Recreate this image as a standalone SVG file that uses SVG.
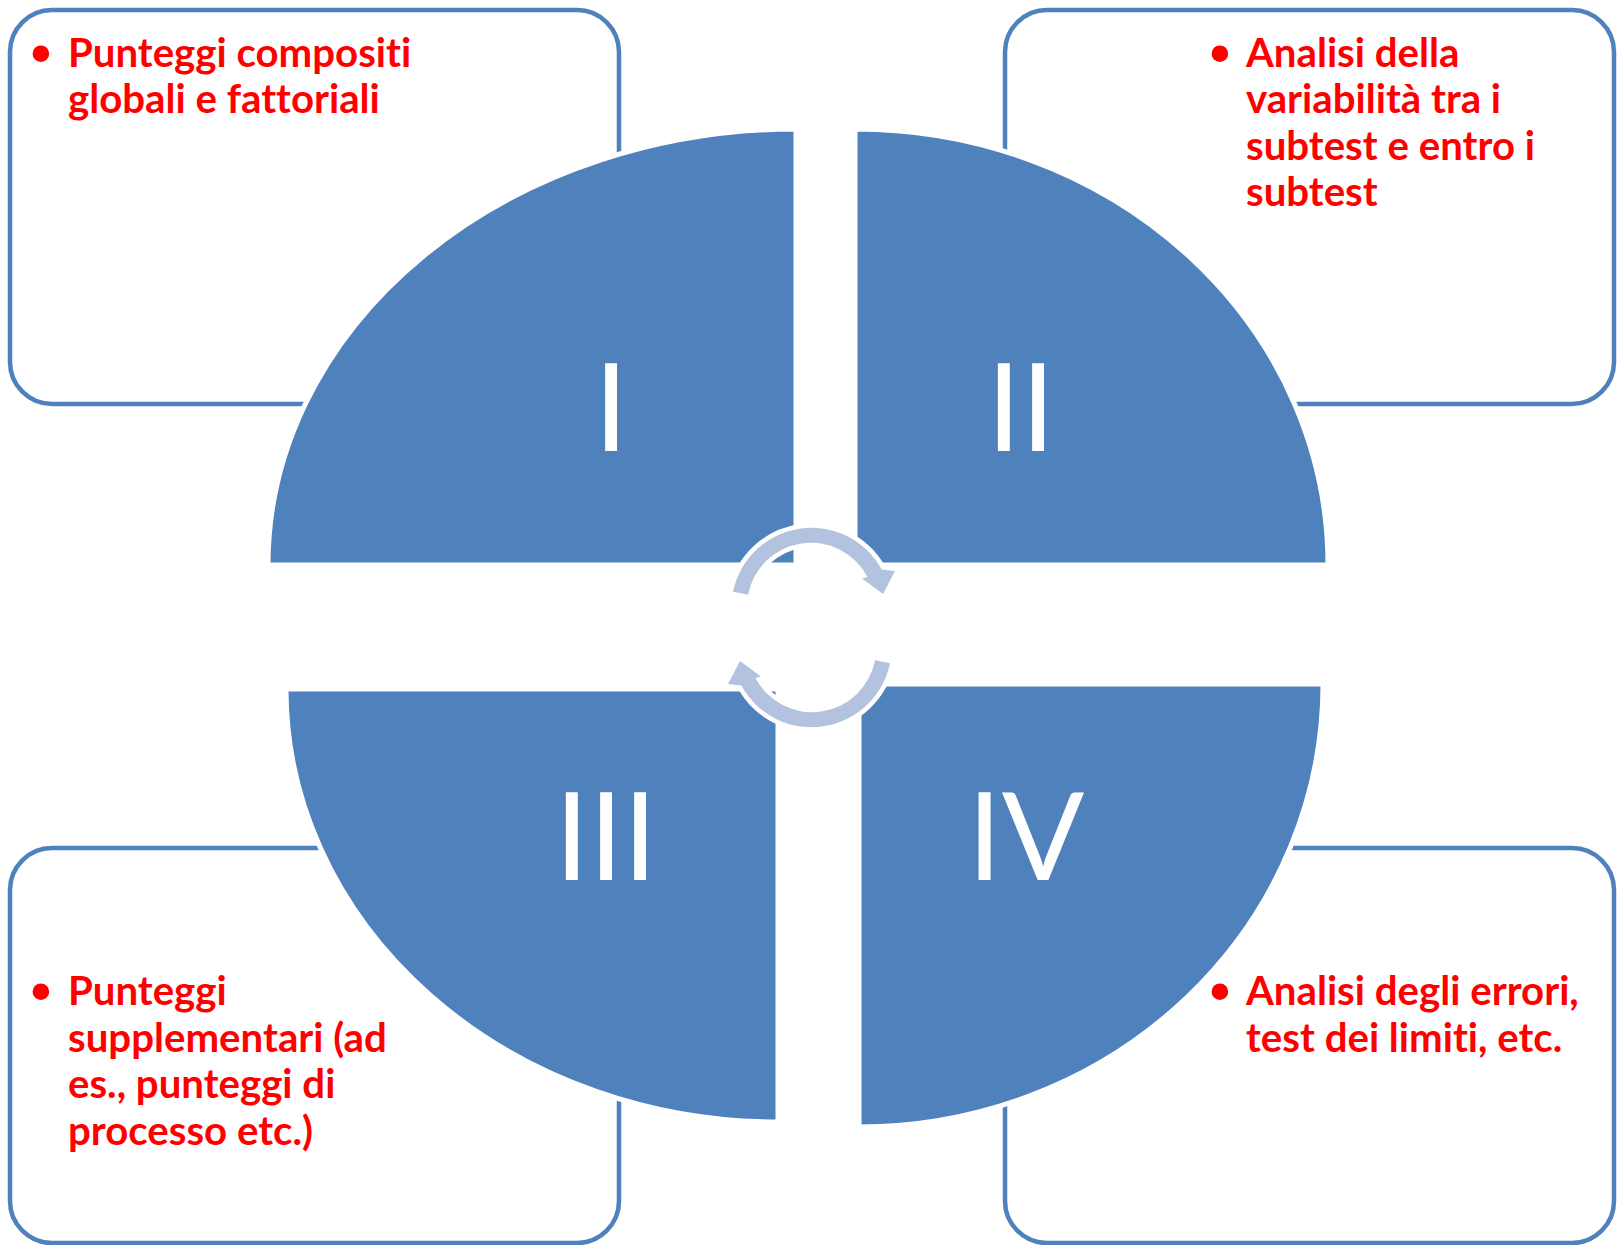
<svg xmlns="http://www.w3.org/2000/svg" width="1617" height="1245" viewBox="0 0 1617 1245">
<style>
.box{fill:#fff;stroke:#4F81BD;stroke-width:4.5}
.q{fill:#4F81BD;stroke:#fff;stroke-width:5}
.arr{fill:#B3C3DF;stroke:#fff;stroke-width:9;paint-order:stroke fill;stroke-linejoin:miter}
.t{font-family:Lato,"Liberation Sans",sans-serif;font-weight:700;font-size:40.2px;fill:#FF0000;font-variant-ligatures:none;font-feature-settings:"liga" 0,"clig" 0}
.b{font-family:"Liberation Sans",sans-serif;font-weight:700;font-size:58px;fill:#FF0000;text-anchor:middle}
.n{font-family:Lato,"Liberation Sans",sans-serif;font-weight:400;font-size:122px;fill:#fff;text-anchor:middle}
</style>
<rect width="1617" height="1245" fill="#fff"/>
<g id="box-tl"><rect class="box" x="10" y="10" width="609" height="394" rx="42"/></g>
<g id="box-tr"><rect class="box" x="1005" y="10" width="609" height="394" rx="42"/></g>
<g id="box-bl"><rect class="box" x="10" y="848" width="609" height="395" rx="42"/></g>
<g id="box-br"><rect class="box" x="1005" y="848" width="609" height="395" rx="42"/></g>
<g id="q1"><path class="q" d="M796,565 L268,565 A528,436 0 0 1 796,129 Z"/><text class="n" x="611" y="451">I</text></g>
<g id="q2"><path class="q" d="M855,565 L855,129 A473,436 0 0 1 1328,565 Z"/><text class="n" x="1021" y="451">II</text></g>
<g id="q3"><path class="q" d="M778,689 L778,1122 A492,433 0 0 1 286,689 Z"/><text class="n" x="606" y="880">III</text></g>
<g id="q4"><path class="q" d="M859,684 L1323,684 A464,443 0 0 1 859,1127 Z"/><text class="n" x="1026" y="880">IV</text></g>
<g id="connectors">
<path id="arrow-top" class="arr" d="M733,591.8 A80,80 0 0 1 881.6,569.4 L895,571 L883,594 L862,578.5 L867.5,577 A64,64 0 0 0 748,594.7 Z"/>
<path id="arrow-bottom" class="arr" transform="rotate(180 811.5 627.5)" d="M733,591.8 A80,80 0 0 1 881.6,569.4 L895,571 L883,594 L862,578.5 L867.5,577 A64,64 0 0 0 748,594.7 Z"/>
</g>
<g id="text-tl">
<text class="b" x="41" y="73">•</text>
<text class="t" x="68" y="67">Punteggi compositi</text>
<text class="t" x="68" y="113">globali e fattoriali</text>
</g>
<g id="text-tr">
<text class="b" x="1220" y="73">•</text>
<text class="t" x="1246" y="67">Analisi della</text>
<text class="t" x="1246" y="113">variabilità tra i</text>
<text class="t" x="1246" y="160">subtest e entro i</text>
<text class="t" x="1246" y="206">subtest</text>
</g>
<g id="text-bl">
<text class="b" x="41" y="1011">•</text>
<text class="t" x="68" y="1005">Punteggi</text>
<text class="t" x="68" y="1052">supplementari (ad</text>
<text class="t" x="68" y="1098">es., punteggi di</text>
<text class="t" x="68" y="1145">processo etc.)</text>
</g>
<g id="text-br">
<text class="b" x="1220" y="1011">•</text>
<text class="t" x="1246" y="1005">Analisi degli errori,</text>
<text class="t" x="1246" y="1052">test dei limiti, etc.</text>
</g>
</svg>
